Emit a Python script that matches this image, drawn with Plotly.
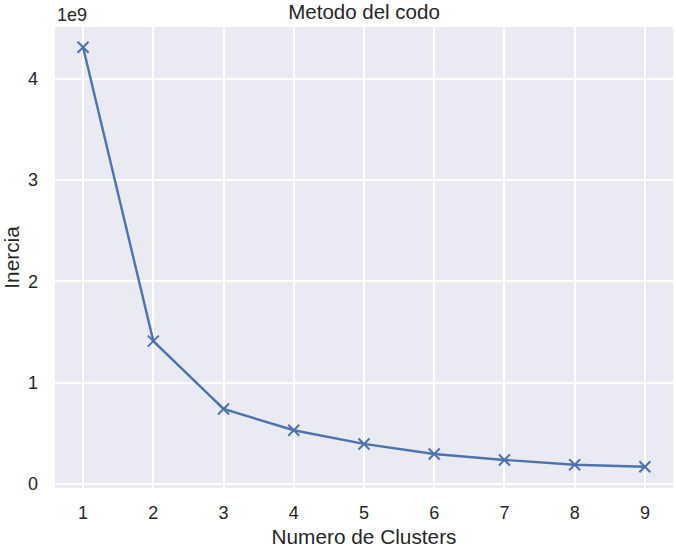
import plotly.graph_objects as go

# datos del metodo del codo
clusters = [1, 2, 3, 4, 5, 6, 7, 8, 9]
inercia = [4.31e9, 1.41e9, 0.74e9, 0.53e9, 0.395e9, 0.296e9, 0.237e9, 0.19e9, 0.17e9]
ytick_vals = [0, 1e9, 2e9, 3e9, 4e9]
ytick_text = ['0', '1', '2', '3', '4']

FAM = 'Liberation Sans, Arial, sans-serif'
TXT = '#262626'

fig = go.Figure()
fig.add_trace(go.Scatter(x=clusters,
                y=inercia,
                mode='lines+markers',
                line=dict(color='#4C72B0', width=2.4),
                marker=dict(symbol='x-thin',
                            size=11,
                            color='#4C72B0',
                            line=dict(color='#4C72B0', width=2)
                            ),
                hoverinfo='x+y'
                ))

tick_font = dict(family=FAM, size=18, color=TXT)
label_font = dict(family=FAM, size=20.8, color=TXT)

fig.update_layout(width=676, height=548,
              margin=dict(l=55, r=3, t=27, b=60),
              paper_bgcolor='white',
              plot_bgcolor='#EAEAF2',
              showlegend=False,
              font=tick_font,
              title=dict(text='Metodo del codo', x=0.5, xref='paper', xanchor='center',
                         y=1, yref='paper', yanchor='bottom', pad=dict(b=8),
                         font=dict(family=FAM, size=20.5, color=TXT)),
              xaxis=dict(range=[0.6, 9.4],
                         tickvals=clusters,
                         showgrid=True, gridcolor='white', gridwidth=1.6,
                         zeroline=False, showline=False,
                         ticks='', automargin=False,
                         ticklabelstandoff=12,
                         tickfont=tick_font,
                         title=dict(text='Numero de Clusters', standoff=11, font=label_font)),
              yaxis=dict(range=[-0.04e9, 4.51e9],
                         tickvals=ytick_vals, ticktext=ytick_text,
                         showgrid=True, gridcolor='white', gridwidth=1.6,
                         zeroline=False, showline=False,
                         ticks='', automargin=False,
                         ticklabelstandoff=16,
                         tickfont=tick_font,
                         title=dict(text='Inercia', standoff=6, font=label_font)),
              annotations=[dict(text='1e9', xref='paper', yref='paper', x=0, y=1,
                                xanchor='left', yanchor='bottom', showarrow=False,
                                font=tick_font, yshift=0)]
              )

# drop the default 8px body margin so the figure fills the window
fig.write_html("out.html", config={'displayModeBar': False},
               post_script="document.body.style.margin='0';")
